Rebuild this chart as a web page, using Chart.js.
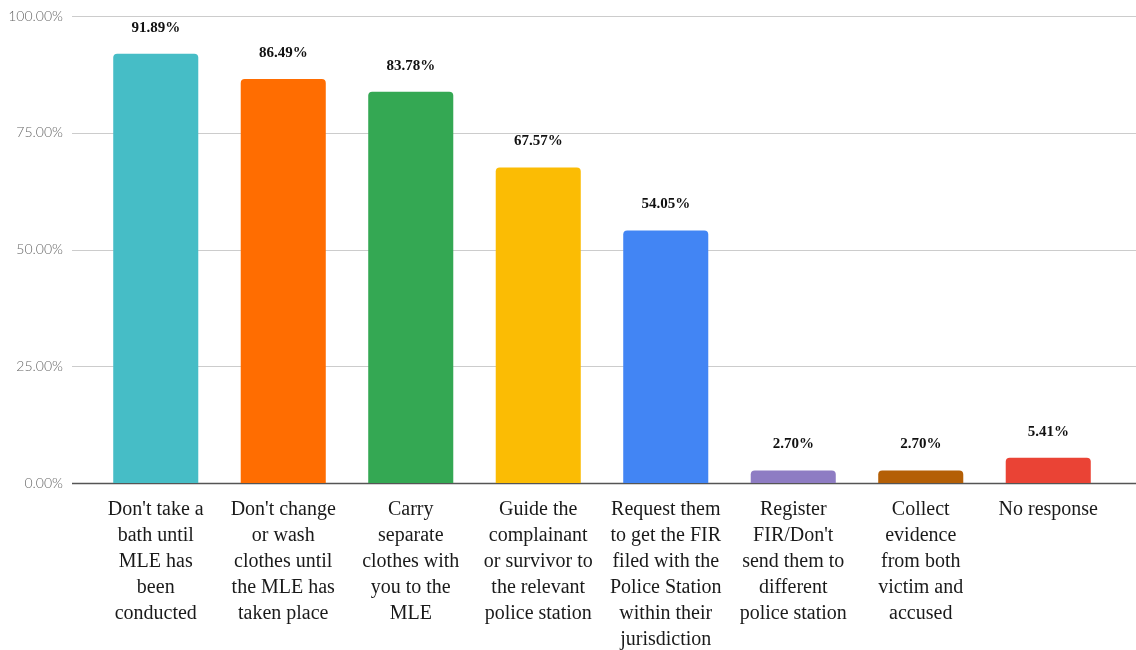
<!DOCTYPE html>
<html>
<head>
<meta charset="utf-8">
<script src="https://cdn.jsdelivr.net/npm/chart.js@4.4.1/dist/chart.umd.min.js"></script>
<style>
  html, body { margin: 0; padding: 0; background: #fff; }
  #wrap { width: 1136px; height: 650px; }
</style>
</head>
<body>
<div id="wrap"><canvas id="chart" width="1136" height="650"></canvas></div>
<script>
// Datos del gráfico
const categories = [
  ["Don't take a", "bath until", "MLE has", "been", "conducted"],
  ["Don't change", "or wash", "clothes until", "the MLE has", "taken place"],
  ["Carry", "separate", "clothes with", "you to the", "MLE"],
  ["Guide the", "complainant", "or survivor to", "the relevant", "police station"],
  ["Request them", "to get the FIR", "filed with the", "Police Station", "within their", "jurisdiction"],
  ["Register", "FIR/Don't", "send them to", "different", "police station"],
  ["Collect", "evidence", "from both", "victim and", "accused"],
  ["No response"]
];
const values = [91.89, 86.49, 83.78, 67.57, 54.05, 2.70, 2.70, 5.41];
const barColors = ['#46bdc6', '#ff6d01', '#34a853', '#fbbc04', '#4285f4', '#8e7cc3', '#b45f06', '#ea4335'];
const yTicks = [0, 25, 50, 75, 100];

// Líneas de la cuadrícula, de borde a borde
const gridPlugin = {
  id: 'gridLines',
  beforeDatasetsDraw(chart) {
    const ctx = chart.ctx;
    const y = chart.scales.y;
    ctx.save();
    yTicks.forEach(t => {
      const py = Math.round(y.getPixelForValue(t)) + 0.5;
      ctx.beginPath();
      ctx.strokeStyle = t === 0 ? '#555' : '#cccccc';
      ctx.lineWidth = t === 0 ? 1.5 : 1;
      ctx.moveTo(72, py);
      ctx.lineTo(chart.width, py);
      ctx.stroke();
    });
    ctx.restore();
  }
};

// Etiquetas de valor encima de cada barra
const valueLabels = {
  id: 'valueLabels',
  afterDatasetsDraw(chart) {
    const ctx = chart.ctx;
    const meta = chart.getDatasetMeta(0);
    ctx.save();
    ctx.font = 'bold 15px "Liberation Serif", serif';
    ctx.fillStyle = '#111';
    ctx.textAlign = 'center';
    ctx.textBaseline = 'middle';
    meta.data.forEach((bar, i) => {
      ctx.fillText(values[i].toFixed(2) + '%', bar.x, bar.y - 26);
    });
    ctx.restore();
  }
};

new Chart(document.getElementById('chart'), {
  type: 'bar',
  data: {
    labels: categories,
    datasets: [{
      data: values,
      backgroundColor: barColors,
      borderRadius: { topLeft: 4, topRight: 4 },
      borderSkipped: 'bottom',
      barPercentage: 0.667,
      categoryPercentage: 1
    }]
  },
  options: {
    responsive: false,
    animation: false,
    layout: { padding: { top: 16, right: 24, left: 0, bottom: 0 } },
    plugins: {
      legend: { display: false },
      tooltip: { enabled: false }
    },
    scales: {
      x: {
        grid: { display: false },
        border: { display: false },
        ticks: {
          color: '#1a1a1a',
          font: { family: '"Liberation Serif", serif', size: 20, lineHeight: 1.3 },
          padding: 6,
          maxRotation: 0,
          autoSkip: false
        },
        afterFit: s => {
          s.height = 167;
          s.paddingLeft = 0;
          s.paddingRight = 0;
          s.paddingTop = 0;
          s.paddingBottom = 0;
        }
      },
      y: {
        min: 0,
        max: 100,
        afterBuildTicks: s => { s.ticks = yTicks.map(v => ({ value: v })); },
        grid: { display: false },
        border: { display: false },
        ticks: {
          color: '#666',
          font: { family: 'Lato, sans-serif', size: 14, weight: '300' },
          padding: 21,
          callback: v => v.toFixed(2) + '%'
        },
        afterFit: s => {
          s.width = 92;
          s.paddingTop = 0;
          s.paddingBottom = 0;
        }
      }
    }
  },
  plugins: [gridPlugin, valueLabels]
});
</script>
</body>
</html>
